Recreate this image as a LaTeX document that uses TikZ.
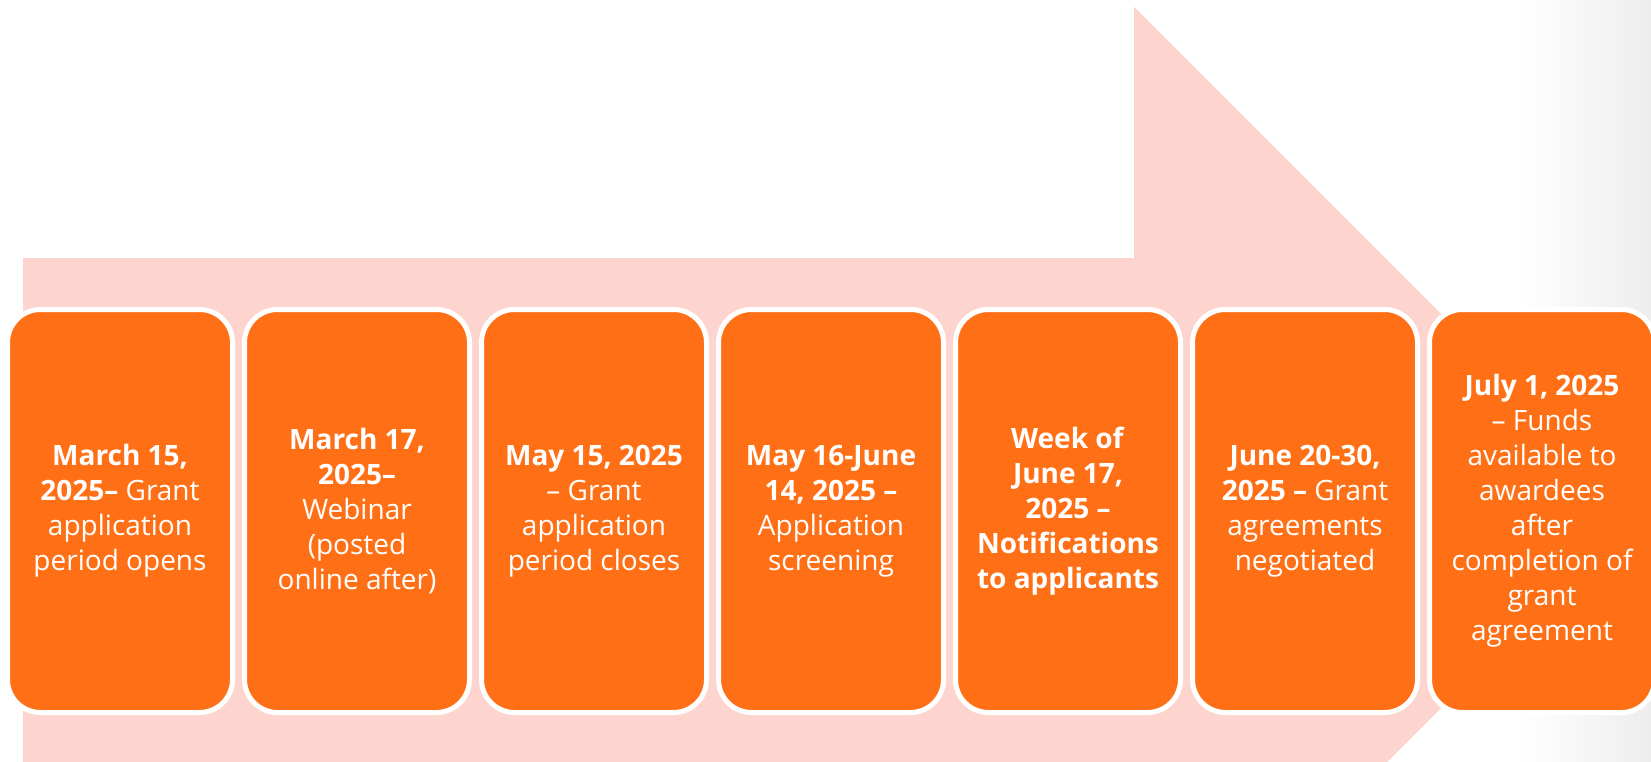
\documentclass[tikz,border=0pt]{standalone}
\usepackage{fontspec}
\setmainfont{Open Sans}
\usepackage{tikz}
\usetikzlibrary{positioning}

\definecolor{stageorange}{RGB}{255,112,22}
\definecolor{arrowpink}{RGB}{253,213,206}

\begin{document}
\begin{tikzpicture}[
		x=1pt, y=-1pt,
		node distance=12pt,
		every node/.style={font=\fontsize{28}{35}\selectfont, align=center, text=white},
		stage/.style={rectangle, rounded corners=33pt, fill=stageorange, draw=white, line width=5pt, minimum width=225pt, minimum height=403pt, inner sep=0pt, outer sep=0pt}
		]
		
		% Background
		\useasboundingbox (0,0) rectangle (1651,761);
		\clip (0,0) rectangle (1651,761);
		\shade[left color=white, right color=black!7] (1520,0) rectangle (1651,761);
		
		% Big arrow
		\fill[arrowpink] (23,258) -- (1134,258) -- (1134,7) -- (1638,511) -- (1134,1015) -- (1134,764) -- (23,764) -- cycle;
		
		% Nodes
		\node[stage] (mar15) at (120,511) {\textbf{March 15,}\\\textbf{2025–} Grant\\application\\period opens};
		\node[stage, right=of mar15] (mar17) {\textbf{March 17,}\\\textbf{2025–}\\Webinar\\(posted\\online after)};
		\node[stage, right=of mar17] (may15) {\textbf{May 15, 2025}\\– Grant\\application\\period closes};
		\node[stage, right=of may15] (screen) {\textbf{May 16-June}\\\textbf{14, 2025 –}\\Application\\screening};
		\node[stage, right=of screen] (notify) {\textbf{Week of}\\\textbf{June 17,}\\\textbf{2025 –}\\\textbf{Notifications}\\\textbf{to applicants}};
		\node[stage, right=of notify] (agree) {\textbf{June 20-30,}\\\textbf{2025 –} Grant\\agreements\\negotiated};
		\node[stage, right=of agree] (funds) {\textbf{July 1, 2025}\\– Funds\\available to\\awardees\\after\\completion of\\grant\\agreement};
		
	\end{tikzpicture}
\end{document}
